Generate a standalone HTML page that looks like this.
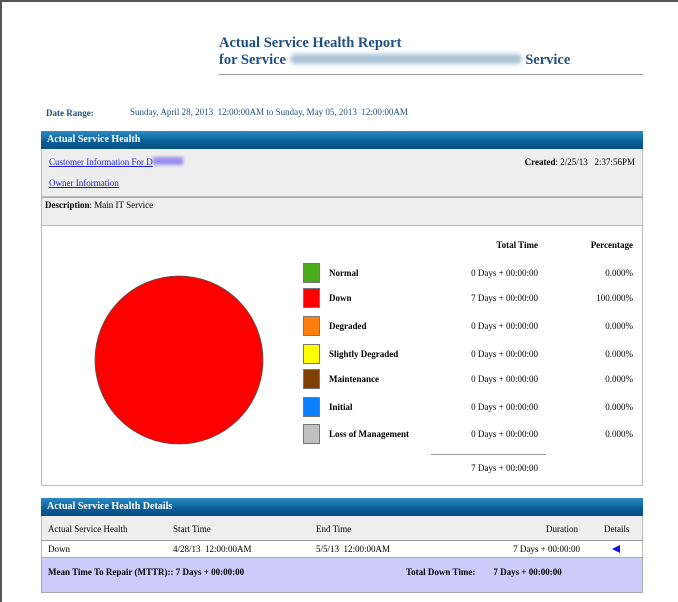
<!DOCTYPE html>
<html><head><meta charset="utf-8"><style>
body{margin:0;width:678px;height:600px;overflow:hidden;background:#fff;font-family:"Liberation Serif",serif;font-size:9px;color:#000;position:relative}
.a{position:absolute;white-space:nowrap}
.b{font-weight:bold}
.r{text-align:right}
.hdr{position:absolute;left:41px;width:602px;height:18px;background:linear-gradient(#2a8ac4,#0a5e96 60%,#064f82);color:#fff;font-weight:bold;font-size:10px;line-height:18px;box-sizing:border-box;padding-left:6px}
a{color:#1a1acc}
</style></head><body>
<div class="a" style="left:0;top:0;width:676px;height:600px;border-left:2px solid #555;border-top:2px solid #555;border-right:2px solid #777"></div>
<div class="a b" style="left:219px;top:35px;font-size:14.5px;color:#1f5080;line-height:17px">Actual Service Health Report<br>for Service <span style="display:inline-block;width:232px;height:10px;background:#a9c3d6;border-radius:5px;filter:blur(2px)"></span> Service</div>
<div class="a" style="left:219px;top:74px;width:424px;height:1px;background:#999"></div>
<div class="a b" style="left:46px;top:108px;color:#1f4e79">Date Range:</div>
<div class="a" style="left:130px;top:107px;color:#1f4e79">Sunday, April 28, 2013 &nbsp;12:00:00AM to Sunday, May 05, 2013 &nbsp;12:00:00AM</div>

<div class="hdr" style="top:131px">Actual Service Health</div>
<div class="a" style="left:41px;top:149px;width:600px;height:47px;background:#eee;border:1px solid #bbb;border-top:none"></div>
<div class="a" style="left:49px;top:157px"><a href="#" style="color:#1a1acc">Customer Information For D</a><span style="display:inline-block;width:30px;height:8px;background:#9a8ef0;filter:blur(1.5px)"></span></div>
<div class="a" style="left:49px;top:178px"><a href="#">Owner Information</a></div>
<div class="a" style="right:43px;top:157px"><b>Created</b>: 2/25/13 &nbsp;&nbsp;2:37:56PM</div>
<div class="a" style="left:41px;top:197px;width:600px;height:27px;background:#eee;border:1px solid #bbb;border-top:1px solid #aaa"></div>
<div class="a" style="left:45px;top:200px"><b>Description</b>: Main IT Service</div>
<div class="a" style="left:41px;top:224px;width:600px;height:261px;border:1px solid #bbb;border-top:none"></div>

<svg class="a" style="left:0;top:0" width="678" height="600" id="pie"></svg>

<div class="a b r" style="left:440px;width:98px;top:240px">Total Time</div>
<div class="a b r" style="left:560px;width:73px;top:240px">Percentage</div>
<div id="legend"></div>
<div class="a" style="left:431px;top:454px;width:115px;height:1px;background:#999"></div>
<div class="a r" style="left:440px;width:98px;top:463px">7 Days + 00:00:00</div>

<div class="hdr" style="top:498px">Actual Service Health Details</div>
<div class="a" style="left:41px;top:516px;width:600px;height:24px;background:#eee;border:1px solid #bbb;border-top:none;border-bottom:1px solid #999"></div>
<div class="a" style="left:48px;top:524px">Actual Service Health</div>
<div class="a" style="left:173px;top:524px">Start Time</div>
<div class="a" style="left:316px;top:524px">End Time</div>
<div class="a" style="left:546px;top:524px">Duration</div>
<div class="a" style="left:604px;top:524px">Details</div>
<div class="a" style="left:41px;top:541px;width:600px;height:16px;border-left:1px solid #bbb;border-right:1px solid #bbb"></div>
<div class="a" style="left:48px;top:544px">Down</div>
<div class="a" style="left:173px;top:544px">4/28/13 &nbsp;12:00:00AM</div>
<div class="a" style="left:316px;top:544px">5/5/13 &nbsp;12:00:00AM</div>
<div class="a r" style="left:480px;width:100px;top:544px">7 Days + 00:00:00</div>
<div class="a" style="left:612px;top:545px;width:0;height:0;border-top:4px solid transparent;border-bottom:4px solid transparent;border-right:8px solid #1010e0"></div>
<div class="a" style="left:41px;top:557px;width:600px;height:34px;background:#ccccfa;border:1px solid #aaa"></div>
<div class="a b" style="left:48px;top:567px">Mean Time To Repair (MTTR):: 7 Days + 00:00:00</div>
<div class="a b" style="left:406px;top:567px">Total Down Time: &nbsp;&nbsp;&nbsp;&nbsp;&nbsp;&nbsp;&nbsp;7 Days + 00:00:00</div>

<script>
const categories=["Normal","Down","Degraded","Slightly Degraded","Maintenance","Initial","Loss of Management"];
const colors=["#4aab1a","#ff0000","#ff7f0e","#ffff00","#7f3f00","#0a7fff","#c0c0c0"];
const totalTimes=["0 Days + 00:00:00","7 Days + 00:00:00","0 Days + 00:00:00","0 Days + 00:00:00","0 Days + 00:00:00","0 Days + 00:00:00","0 Days + 00:00:00"];
const percentages=[0,100,0,0,0,0,0];
const rowY=[273,298,326,354,379,407,434];
const NS="http://www.w3.org/2000/svg";
const svg=document.getElementById('pie');
const cx=179,cy=360,R=84;
const sum=percentages.reduce((a,b)=>a+b,0);
let ang=-Math.PI/2;
percentages.forEach((v,i)=>{
  if(v<=0)return;
  const frac=v/sum;
  let el;
  if(frac>=0.9999){
    el=document.createElementNS(NS,'circle');
    el.setAttribute('cx',cx);el.setAttribute('cy',cy);el.setAttribute('r',R);
  }else{
    const a2=ang+frac*2*Math.PI;
    el=document.createElementNS(NS,'path');
    el.setAttribute('d',`M${cx},${cy}L${cx+R*Math.cos(ang)},${cy+R*Math.sin(ang)}A${R},${R} 0 ${frac>0.5?1:0} 1 ${cx+R*Math.cos(a2)},${cy+R*Math.sin(a2)}Z`);
    ang=a2;
  }
  el.setAttribute('fill',colors[i]);el.setAttribute('stroke','#555');el.setAttribute('stroke-width','0.8');
  
  
  svg.appendChild(el);
});
const lg=document.getElementById('legend');
categories.forEach((c,i)=>{
  const y=rowY[i];
  const sw=document.createElement('div');
  sw.className='a';
  sw.style.cssText=`left:303px;top:${y-10}px;width:15px;height:18px;background:${colors[i]};border:1px solid #777`;
  
  
  lg.appendChild(sw);
  const lb=document.createElement('div');
  lb.className='a b';lb.style.cssText=`left:329px;top:${y-5}px`;lb.textContent=c;
  
  
  lg.appendChild(lb);
  const tt=document.createElement('div');
  tt.className='a r';tt.style.cssText=`left:430px;width:108px;top:${y-5}px`;tt.textContent=totalTimes[i];
  
  
  lg.appendChild(tt);
  const pc=document.createElement('div');
  pc.className='a r';pc.style.cssText=`left:560px;width:73px;top:${y-5}px`;pc.textContent=percentages[i].toFixed(3)+'%';
  
  
  lg.appendChild(pc);
});
</script>
</body></html>
